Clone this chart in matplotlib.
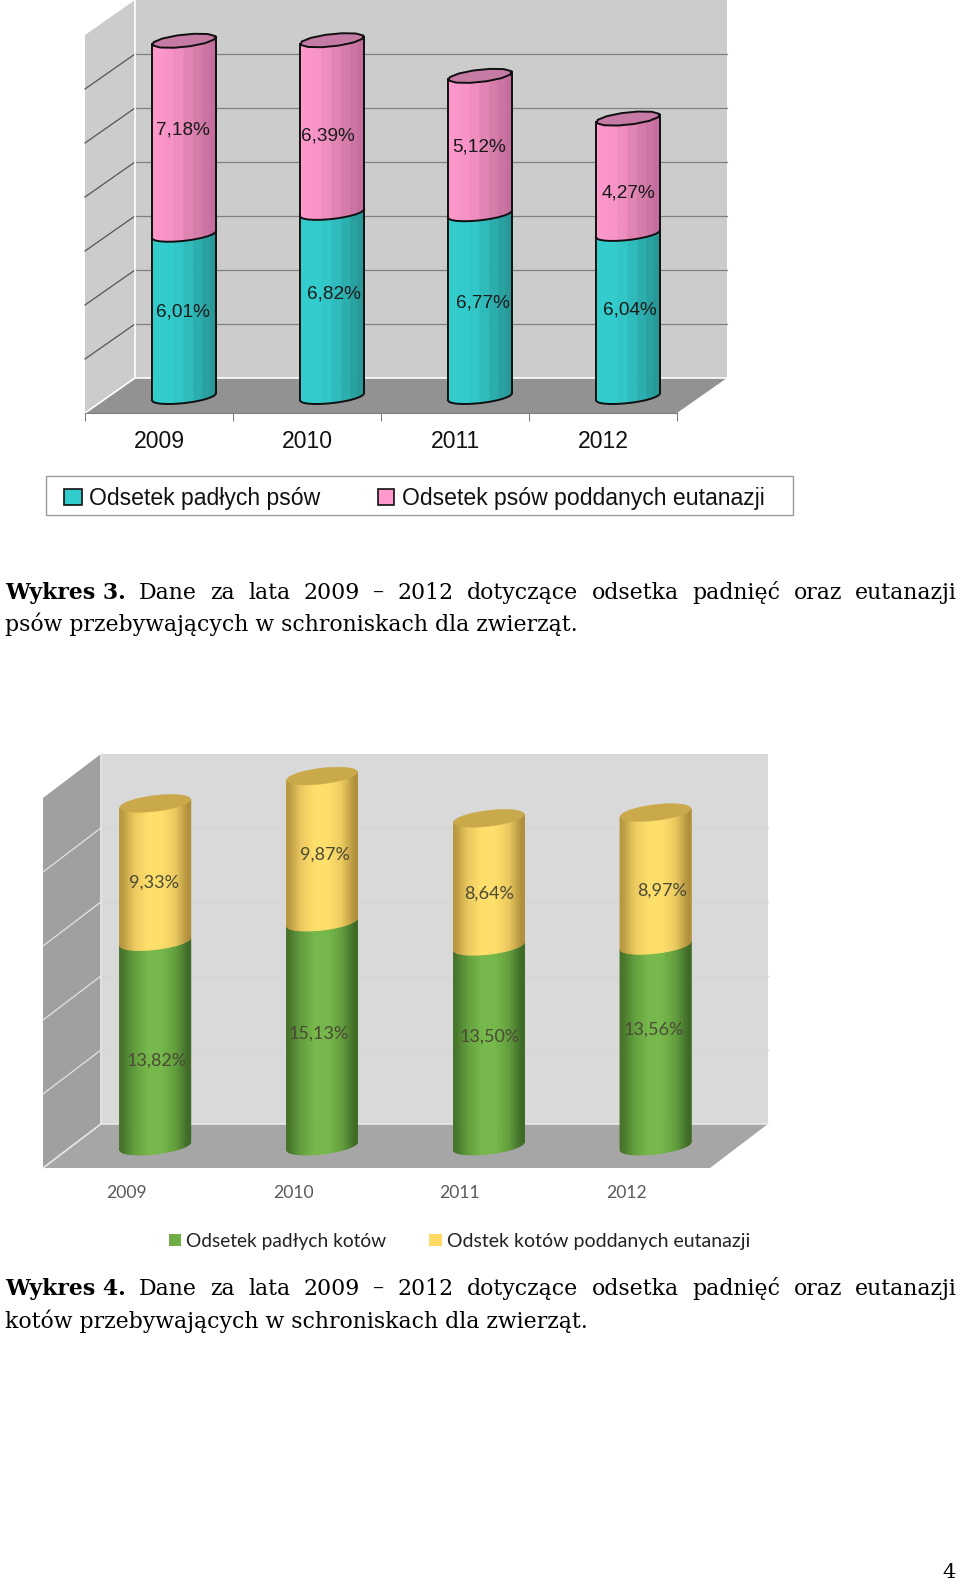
import numpy as np
import matplotlib
matplotlib.use('Agg')
import matplotlib.pyplot as plt
from matplotlib.colors import LinearSegmentedColormap
from matplotlib.patches import Polygon, Rectangle

W, H = 960, 1585

years = ['2009', '2010', '2011', '2012']

# wykres 3 - psy
dead_dogs = [6.01, 6.82, 6.77, 6.04]
euth_dogs = [7.18, 6.39, 5.12, 4.27]
dead_dogs_txt = ['6,01%', '6,82%', '6,77%', '6,04%']
euth_dogs_txt = ['7,18%', '6,39%', '5,12%', '4,27%']

# wykres 4 - koty
dead_cats = [13.82, 15.13, 13.50, 13.56]
euth_cats = [9.33, 9.87, 8.64, 8.97]
dead_cats_txt = ['13,82%', '15,13%', '13,50%', '13,56%']
euth_cats_txt = ['9,33%', '9,87%', '8,64%', '8,97%']

fig = plt.figure(figsize=(W / 100, H / 100), dpi=100, facecolor='white')

# overlay in pixels for captions and legends
page = fig.add_axes([0, 0, 1, 1], zorder=5)
page.set_xlim(0, W)
page.set_ylim(H, 0)
page.axis('off')


def make_axes(x0, y0, x1, y_top, ymax):
    ax = fig.add_axes([x0 / W, 1 - y0 / H, (x1 - x0) / W, (y0 - y_top) / H])
    ax.set_xlim(-0.5, 3.5)
    ax.set_ylim(0, ymax)
    ax.patch.set_visible(False)
    for s in ['top', 'left', 'right']:
        ax.spines[s].set_visible(False)
    ax.set_yticks([])
    return ax


def box3d(ax, ymax, step, dx, dy, back, side, floor, grid, back_grid, edge):
    x0, x1 = ax.get_xlim()
    ax.add_patch(Polygon([(x0 + dx, dy), (x1 + dx, dy), (x1 + dx, ymax + dy), (x0 + dx, ymax + dy)],
                         fc=back, ec='none', clip_on=False, zorder=1))
    ax.add_patch(Polygon([(x0, 0), (x0 + dx, dy), (x0 + dx, ymax + dy), (x0, ymax)],
                         fc=side, ec='none', clip_on=False, zorder=1))
    ax.add_patch(Polygon([(x0, 0), (x1, 0), (x1 + dx, dy), (x0 + dx, dy)],
                         fc=floor, ec='none', clip_on=False, zorder=1))
    for v in np.arange(step, ymax, step):
        ax.plot([x0, x0 + dx], [v, v + dy], color=grid, lw=0.9, clip_on=False, zorder=2)
        ax.plot([x0 + dx, x1 + dx], [v + dy, v + dy], color=back_grid, lw=0.9, clip_on=False, zorder=2)
    # bright edges of the box
    ax.plot([x0, x0 + dx, x1 + dx], [0, dy, dy], color=edge, lw=1.2, clip_on=False, zorder=2)
    ax.plot([x0 + dx, x0 + dx], [dy, ymax + dy], color=edge, lw=1.2, clip_on=False, zorder=2)


def arc(cx, v, ts, st):
    d = st['rd'] * np.sin(ts)
    x = cx + st['r'] * np.cos(ts) + d * st['dx'] + 0.5 * st['dx']
    y = v + d * st['dy'] + st['lift'] * st['dy'] + st['tilt'] * np.cos(ts)
    return x, y


def cylinder(ax, cx, v0, v1, st, cmap, n_seg, n_arc, outline):
    t0 = np.arctan2(st['rd'] * st['dx'], st['r'])
    edges = np.linspace(t0 + np.pi, t0 + 2 * np.pi, n_seg + 1)
    for i in range(n_seg):
        ts = np.linspace(edges[i], edges[i + 1], 4)
        xb, yb = arc(cx, v0, ts, st)
        xt, yt = arc(cx, v1, ts, st)
        pos = (xb[0] + xb[-1]) / 2
        c = cmap((pos - (cx + 0.5 * st['dx'] - st['r'])) / (2 * st['r']))
        ax.add_patch(Polygon(np.r_[np.c_[xb, yb], np.c_[xt, yt][::-1]], fc=c, ec=c, lw=0.7,
                             clip_on=False, zorder=3))
    if outline:
        ts = np.linspace(edges[0], edges[-1], n_arc)
        xb, yb = arc(cx, v0, ts, st)
        xt, yt = arc(cx, v1, ts, st)
        ax.plot(xb, yb, color='#101010', lw=1.4, clip_on=False, zorder=5)
        ax.plot([xb[0], xt[0]], [yb[0], yt[0]], color='#101010', lw=1.4, clip_on=False, zorder=5)
        ax.plot([xb[-1], xt[-1]], [yb[-1], yt[-1]], color='#101010', lw=1.4, clip_on=False, zorder=5)


def top_face(ax, cx, v, st, color, n, outline):
    ts = np.linspace(0, 2 * np.pi, n)
    x, y = arc(cx, v, ts, st)
    ax.add_patch(Polygon(np.c_[x, y], fc=color, ec='#101010' if outline else color,
                         lw=1.4 if outline else 0.3, clip_on=False, zorder=6))


def justified(y, x0, x1, words, size, bold_n):
    arts = []
    for i, w in enumerate(words):
        arts.append(page.text(x0, y, w, family='DejaVu Serif', fontsize=size, color='black',
                              fontweight='bold' if i < bold_n else 'normal', va='center', ha='left'))
    r = fig.canvas.get_renderer()
    widths = [a.get_window_extent(r).width for a in arts]
    gap = (x1 - x0 - sum(widths)) / (len(words) - 1)
    x = x0
    for a, w in zip(arts, widths):
        a.set_x(x)
        x += w + gap


def plain_line(y, x0, text, size):
    page.text(x0, y, text, family='DejaVu Serif', fontsize=size, color='black', va='center', ha='left')


# --- wykres 3 ---
ax1 = make_axes(85, 413, 677, 35, 14)
dx1, dy1 = 50 / 148, 35 / 27
st1 = dict(r=0.205, rd=0.2, dx=dx1, dy=dy1, lift=0.46, tilt=0.05)
box3d(ax1, 14, 2, dx1, dy1, '#cccccc', '#cccccc', '#929292', '#555555', '#808080', 'white')
ax1.spines['bottom'].set_color('#808080')
ax1.set_xticks([-0.5, 0.5, 1.5, 2.5, 3.5])
ax1.set_xticklabels([])
ax1.tick_params(axis='x', which='major', length=6, color='#808080')
ax1.set_xticks(range(4), minor=True)
ax1.set_xticklabels(years, minor=True, family='Liberation Sans', fontsize=16.6, color='#111111')
ax1.tick_params(axis='x', which='minor', length=0, pad=12)

teal = LinearSegmentedColormap.from_list('t', ['#33cccc', '#33cccc', '#2eb5b5', '#279595'])
pink = LinearSegmentedColormap.from_list('p', ['#ff99cc', '#f592c4', '#d980ad', '#c46c9c'])
for i in range(4):
    cylinder(ax1, i, 0, dead_dogs[i], st1, teal, 10, 14, True)
    cylinder(ax1, i, dead_dogs[i], dead_dogs[i] + euth_dogs[i], st1, pink, 10, 14, True)
    top_face(ax1, i, dead_dogs[i] + euth_dogs[i], st1, '#c67ba4', 13, True)

dog_low_y = [3.17, 3.83, 3.50, 3.24]
dog_low_dx = [-1, 2, 2.5, 1.5]
dog_up_y = [9.90, 9.69, 9.26, 7.57]
dog_up_dx = [-1, -4, -0.5, 0]
for i in range(4):
    for txt, y, off in [(dead_dogs_txt[i], dog_low_y[i], dog_low_dx[i]), (euth_dogs_txt[i], dog_up_y[i], dog_up_dx[i])]:
        ax1.annotate(txt, (i + 0.5 * dx1, y + 0.5 * dy1), xytext=(off * 0.72, -1.4), textcoords='offset points',
                     family='Liberation Sans', fontsize=13.7, color='#1a1a1a', ha='center', va='center',
                     zorder=7, annotation_clip=False)

page.add_patch(Rectangle((46, 476), 747, 39, fc='white', ec='#9a9a9a', lw=1))
page.add_patch(Rectangle((64, 489), 18, 16, fc='#33cccc', ec='#111111', lw=1.2))
page.add_patch(Rectangle((378, 489), 16, 16, fc='#ff99cc', ec='#111111', lw=1.2))
page.text(89, 498, 'Odsetek padłych psów', family='Liberation Sans', fontsize=16.6, color='#111111', va='center')
page.text(402, 498, 'Odsetek psów poddanych eutanazji', family='Liberation Sans', fontsize=16.6, color='#111111', va='center')

justified(593, 5, 957, ['Wykres 3.', 'Dane', 'za', 'lata', '2009', '–', '2012', 'dotyczące', 'odsetka',
                        'padnięć', 'oraz', 'eutanazji'], 15.8, 1)
plain_line(624, 5, 'psów przebywających w schroniskach dla zwierząt.', 15.8)

# --- wykres 4 ---
ax2 = make_axes(43, 1168, 710, 798, 25)
dx2, dy2 = 58 / 167, 44 / 14.8
st2 = dict(r=0.2, rd=0.2, dx=dx2, dy=dy2, lift=0.5, tilt=0.08)
box3d(ax2, 25, 5, dx2, dy2, '#d9d9d9', '#a0a0a0', '#a6a6a6', '#e4e4e4', '#d5d5d5', '#e8e8e8')
ax2.spines['bottom'].set_visible(False)
ax2.set_xticks(range(4))
ax2.set_xticklabels(years, family='Lato', fontsize=12.6, color='#595959')
ax2.tick_params(axis='x', length=0, pad=12)

green = LinearSegmentedColormap.from_list('g', ['#46742b', '#63a03e', '#76b84b', '#76b84b', '#63a03e', '#3f6b27'])
yellow = LinearSegmentedColormap.from_list('y', ['#b8973f', '#ecca60', '#ffdf6b', '#ffdf6b', '#ecca60', '#b0903c'])
for i in range(4):
    cylinder(ax2, i, 0, dead_cats[i], st2, green, 48, 40, False)
    cylinder(ax2, i, dead_cats[i], dead_cats[i] + euth_cats[i], st2, yellow, 48, 40, False)
    top_face(ax2, i, dead_cats[i] + euth_cats[i], st2, '#c9a94a', 60, False)

cat_low_y = [5.88, 7.70, 7.50, 7.97]
cat_low_dx = [1, -3.5, 0.5, -1.5]
cat_up_y = [17.90, 19.80, 17.16, 17.36]
cat_up_dx = [-1, 3, 0, 6]
for i in range(4):
    for txt, y, off in [(dead_cats_txt[i], cat_low_y[i], cat_low_dx[i]), (euth_cats_txt[i], cat_up_y[i], cat_up_dx[i])]:
        ax2.annotate(txt, (i + 0.5 * dx2, y + 0.5 * dy2), xytext=(off * 0.72, -1.4), textcoords='offset points',
                     family='Lato', fontsize=13, color='#4a4a36', ha='center', va='center',
                     zorder=7, annotation_clip=False)

page.add_patch(Rectangle((169, 1234), 12, 12, fc='#70ad47', ec='none'))
page.add_patch(Rectangle((429, 1234), 13, 12, fc='#ffd966', ec='none'))
page.text(186, 1241, 'Odsetek padłych kotów', family='Lato', fontsize=13.8, color='#222222', va='center')
page.text(447, 1241, 'Odstek kotów poddanych eutanazji', family='Lato', fontsize=14, color='#222222', va='center')

justified(1289, 5, 957, ['Wykres 4.', 'Dane', 'za', 'lata', '2009', '–', '2012', 'dotyczące', 'odsetka',
                         'padnięć', 'oraz', 'eutanazji'], 15.8, 1)
plain_line(1321, 5, 'kotów przebywających w schroniskach dla zwierząt.', 15.8)

page.text(949, 1573, '4', family='DejaVu Serif', fontsize=15, color='black', ha='center', va='center')

fig.savefig('out.png', dpi=100)
